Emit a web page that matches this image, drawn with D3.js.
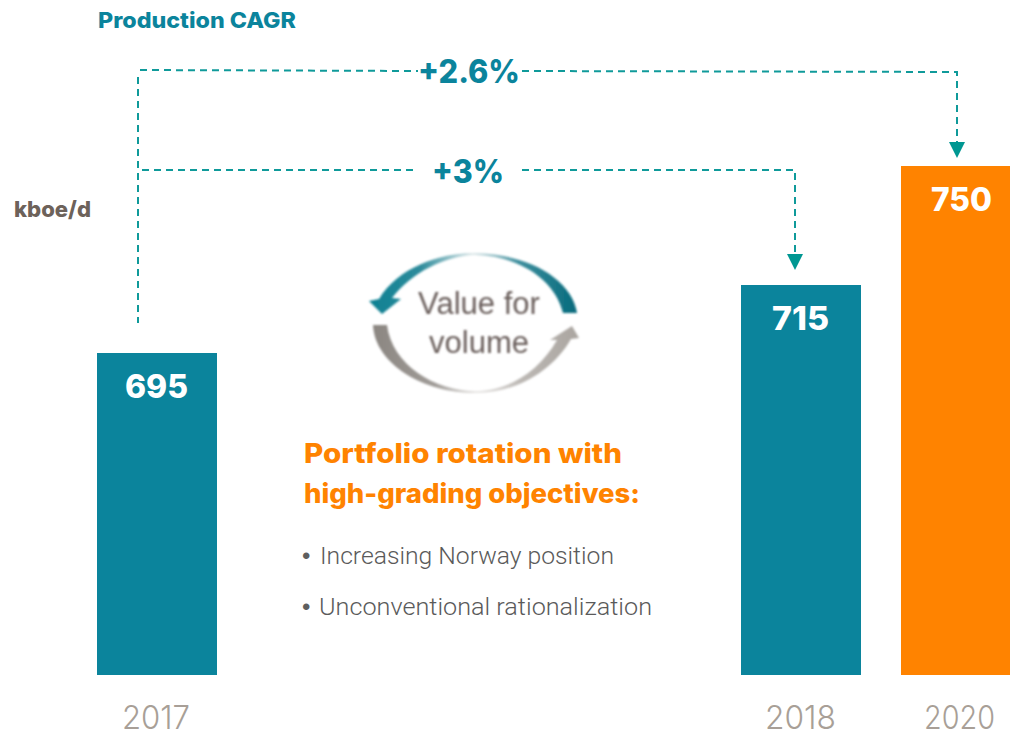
<!DOCTYPE html>
<html><head><meta charset="utf-8">
<script src="https://cdn.jsdelivr.net/npm/d3@7"></script>
<style>html,body{margin:0;padding:0;background:#fff}svg{display:block}</style>
</head><body><div id="chart"></div>
<script>
const years = ["2017","2018","2020"];
const production = [695,715,750];
const barColors = ["#0b849c","#0b849c","#ff8300"];
const yearLabelColor = "#a89f97";
const cagrLabels = ["+2.6%","+3%"];
const bullets = ["Increasing Norway position","Unconventional rationalization"];
const headline = ["Portfolio rotation with","high-grading objectives:"];
const iconLines = ["Value for","volume"];

const W=1010,H=733,F="Inter, sans-serif",L="Inter, Roboto, sans-serif";
const svg=d3.select("#chart").append("svg").attr("width",W).attr("height",H);
const defs=svg.append("defs");
const x=d3.scaleOrdinal().domain(years).range([97,741,901]);
const barW=120;
const y=d3.scaleLinear().domain([600.3,750]).range([675,166]);

function txt(s,px,py,size,weight,fill,len,fam){
  const t=svg.append("text").attr("x",px).attr("y",py).attr("font-family",fam||F)
    .attr("font-size",size).attr("font-weight",weight).attr("fill",fill).text(s);
  if(len)t.attr("textLength",len).attr("lengthAdjust","spacingAndGlyphs");
  return t;
}

svg.selectAll("rect.bar").data(years).join("rect").attr("class","bar")
  .attr("x",d=>x(d)).attr("width",barW)
  .attr("y",(d,i)=>y(production[i])).attr("height",(d,i)=>y.range()[0]-y(production[i]))
  .attr("fill",(d,i)=>barColors[i]);

const valueX=[125,772,931], valueLen=[63,57,61];
years.forEach((d,i)=>txt(String(production[i]),valueX[i],y(production[i])+45,32,800,"#fff",valueLen[i]));

const yearX=[122,765,924];
years.forEach((d,i)=>txt(d,yearX[i],729,33,300,yearLabelColor,i==0?68:71,L));

const dash="#0f9a9a";
const conn=[
 [[140,70],[418,71]],
 [[522,71],[957,72],[957,146]],
 [[142,170],[417,170]],
 [[522,170],[795,170],[795,258]],
 [[138,77],[138,323]]
];
const line=d3.line();
svg.selectAll("path.conn").data(conn).join("path").attr("class","conn")
  .attr("d",line).attr("fill","none").attr("stroke",dash).attr("stroke-width",2).attr("stroke-dasharray","7 5");
svg.selectAll("path.head").data([[957,142],[795,254]]).join("path").attr("class","head")
  .attr("d",d=>`M${d[0]-8},${d[1]}h16l-8,16z`).attr("fill","#009792");

txt("Production CAGR",98,28,22,800,"#0b849c",198);
txt("kboe/d",14,217,22,800,"#6d625a",77);
txt(cagrLabels[0],418,83,32,800,"#0b849c",102);
txt(cagrLabels[1],432,183,32,800,"#0b849c",72);

headline.forEach((s,i)=>txt(s,304,463+i*40,27,800,"#ff8300",i==0?318:336));
const bulletX=[320,319], bulletLen=[294,333];
bullets.forEach((s,i)=>{
  txt("•",302,564+i*51,24,400,"#5f5f5f",null,"Liberation Sans, sans-serif");
  txt(s,bulletX[i],564+i*51,23,300,"#5a5a5a",bulletLen[i],"Roboto, sans-serif");
});

const gTop=defs.append("linearGradient").attr("id","gt").attr("x1",0).attr("x2",1).attr("y1",0).attr("y2",0);
[[0,"#0b8092"],[.25,"#2f8c9c"],[.5,"#dfe9ea"],[.72,"#3f8f9e"],[1,"#056a7c"]].forEach(s=>gTop.append("stop").attr("offset",s[0]).attr("stop-color",s[1]));
const gBot=defs.append("linearGradient").attr("id","gb").attr("x1",0).attr("x2",1).attr("y1",0).attr("y2",0);
[[0,"#8b8681"],[.3,"#a09c98"],[.5,"#e8e6e4"],[.72,"#bcb8b4"],[1,"#aaa5a0"]].forEach(s=>gBot.append("stop").attr("offset",s[0]).attr("stop-color",s[1]));
const blur=defs.append("filter").attr("id","bl").attr("x","-10%").attr("y","-10%").attr("width","120%").attr("height","120%");
blur.append("feGaussianBlur").attr("stdDeviation",0.8);
const ic=svg.append("g").attr("filter","url(#bl)");
ic.append("path").attr("fill","url(#gt)")
  .attr("d","M577,313 C572,280 530,254 475,253 C438,253 398,268 379,299 L369,301 L382,314 L401,299 L392,298 C412,272 445,256 475,255 C520,256 555,280 563,313 Z");
ic.append("path").attr("fill","url(#gb)")
  .attr("d","M373,325 C375,365 425,393 475,393 C515,393 552,372 571,339 L579,338 L572,326 L550,340 L557,340 C540,370 510,391 475,391 C435,391 392,365 387,325 Z");
iconLines.forEach((s,i)=>ic.append("text").attr("x",479).attr("y",314+i*39).attr("text-anchor","middle")
  .attr("font-family","Liberation Sans, Arial, sans-serif").attr("font-size",31).attr("fill","#6a5f5c").text(s));
</script></body></html>
